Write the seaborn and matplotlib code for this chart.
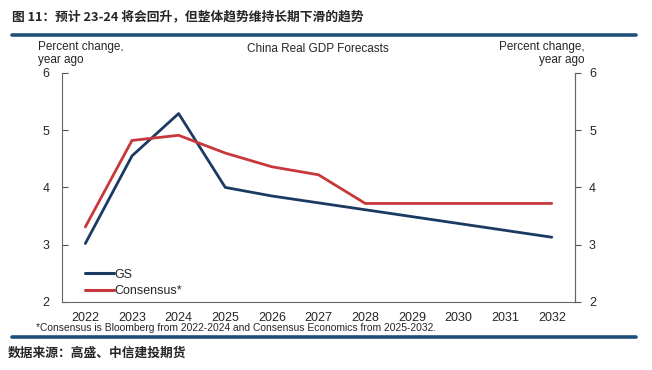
import pandas as pd
import matplotlib.pyplot as plt
import seaborn as sns

# ---- data ----
years = [2022, 2023, 2024, 2025, 2026, 2027, 2028, 2029, 2030, 2031, 2032]
gs = [3.02, 4.55, 5.29, 4.00, 3.85, 3.73, 3.61, 3.49, 3.37, 3.25, 3.13]
consensus = [3.31, 4.82, 4.91, 4.60, 4.36, 4.22, 3.72, 3.72, 3.72, 3.72, 3.72]
series_names = ['GS', 'Consensus*']
y_ticks = [2, 3, 4, 5, 6]

df = pd.DataFrame({
    'pos': list(range(len(years))) * 2,
    'value': gs + consensus,
    'series': [series_names[0]] * len(years) + [series_names[1]] * len(years),
})

sns.set_theme(style="white")
plt.rcParams['font.family'] = ['Liberation Sans', 'Noto Sans CJK SC', 'DejaVu Sans']

NAVY = '#1b3a62'
RED = '#c8383a'
BAR = '#1f4e79'

fig = plt.figure(figsize=(6.52, 3.70), dpi=100)
ax = fig.add_axes([0.0951, 0.184, 0.787, 0.619])

sns.lineplot(data=df, x='pos', y='value', hue='series', palette=[NAVY, RED],
             linewidth=2.0, ax=ax, legend=True)

ax.set_xlim(-0.5, len(years) - 0.5)
ax.set_ylim(2, 6)
ax.set_yticks(y_ticks)
ax.set_xticks([i - 0.5 for i in range(len(years) + 1)])
ax.set_xticklabels([])
ax.set_xticks(range(len(years)), minor=True)
ax.set_xticklabels([str(y) for y in years], minor=True)
ax.tick_params(axis='x', which='major', direction='in', length=4, color='#555555', width=0.8)
ax.tick_params(axis='x', which='minor', length=0, labelsize=9, pad=7)
ax.tick_params(axis='y', direction='in', length=4, color='#555555', width=0.8, labelsize=9, pad=9)
ax.set_xlabel('')
ax.set_ylabel('')
ax.spines['top'].set_visible(False)
for s in ['left', 'right', 'bottom']:
    ax.spines[s].set_color('#666666')
    ax.spines[s].set_linewidth(0.8)

ax2 = ax.twinx()
ax2.set_ylim(2, 6)
ax2.set_yticks(y_ticks)
ax2.tick_params(axis='y', direction='out', length=4, color='#555555', width=0.8, labelsize=9, pad=6)
ax2.spines['top'].set_visible(False)
ax2.spines['right'].set_color('#666666')
ax2.spines['right'].set_linewidth(0.8)
ax2.spines['left'].set_visible(False)
ax2.spines['bottom'].set_visible(False)
ax2.grid(False)

leg = ax.legend(loc='lower left', bbox_to_anchor=(0.02, -0.033), frameon=False, fontsize=9,
                handlelength=2.3, handletextpad=0.1, labelspacing=0.35, borderaxespad=0.6)
for line in leg.get_lines():
    line.set_linewidth(2.2)

# ---- texts ----
fig.text(0.0185, 0.955, '图 11：预计 23-24 将会回升，但整体趋势维持长期下滑的趋势',
         fontsize=9.2, fontweight='bold', family=['Noto Sans CJK SC', 'DejaVu Sans'],
         ha='left', va='center')
fig.add_artist(plt.Line2D([0.018, 0.975], [0.905, 0.905], color=BAR, linewidth=2.6,
                          transform=fig.transFigure))
fig.text(0.488, 0.868, 'China Real GDP Forecasts', fontsize=8.5, ha='center', va='center')
fig.text(0.058, 0.855, 'Percent change,\nyear ago', fontsize=8.5, ha='left', va='center',
         linespacing=1.15)
fig.text(0.897, 0.855, 'Percent change,\nyear ago', fontsize=8.5, ha='right', va='center',
         linespacing=1.15, multialignment='right')
fig.text(0.055, 0.113, '*Consensus is Bloomberg from 2022-2024 and Consensus Economics from 2025-2032.',
         fontsize=7.4, ha='left', va='center')
fig.add_artist(plt.Line2D([0.018, 0.975], [0.088, 0.088], color=BAR, linewidth=2.6,
                          transform=fig.transFigure))
fig.text(0.012, 0.045, '数据来源：高盛、中信建投期货', fontsize=9.2, fontweight='bold',
         style='italic', family=['Noto Sans CJK SC', 'DejaVu Sans'], ha='left', va='center')

fig.savefig('out.png', dpi=100)
